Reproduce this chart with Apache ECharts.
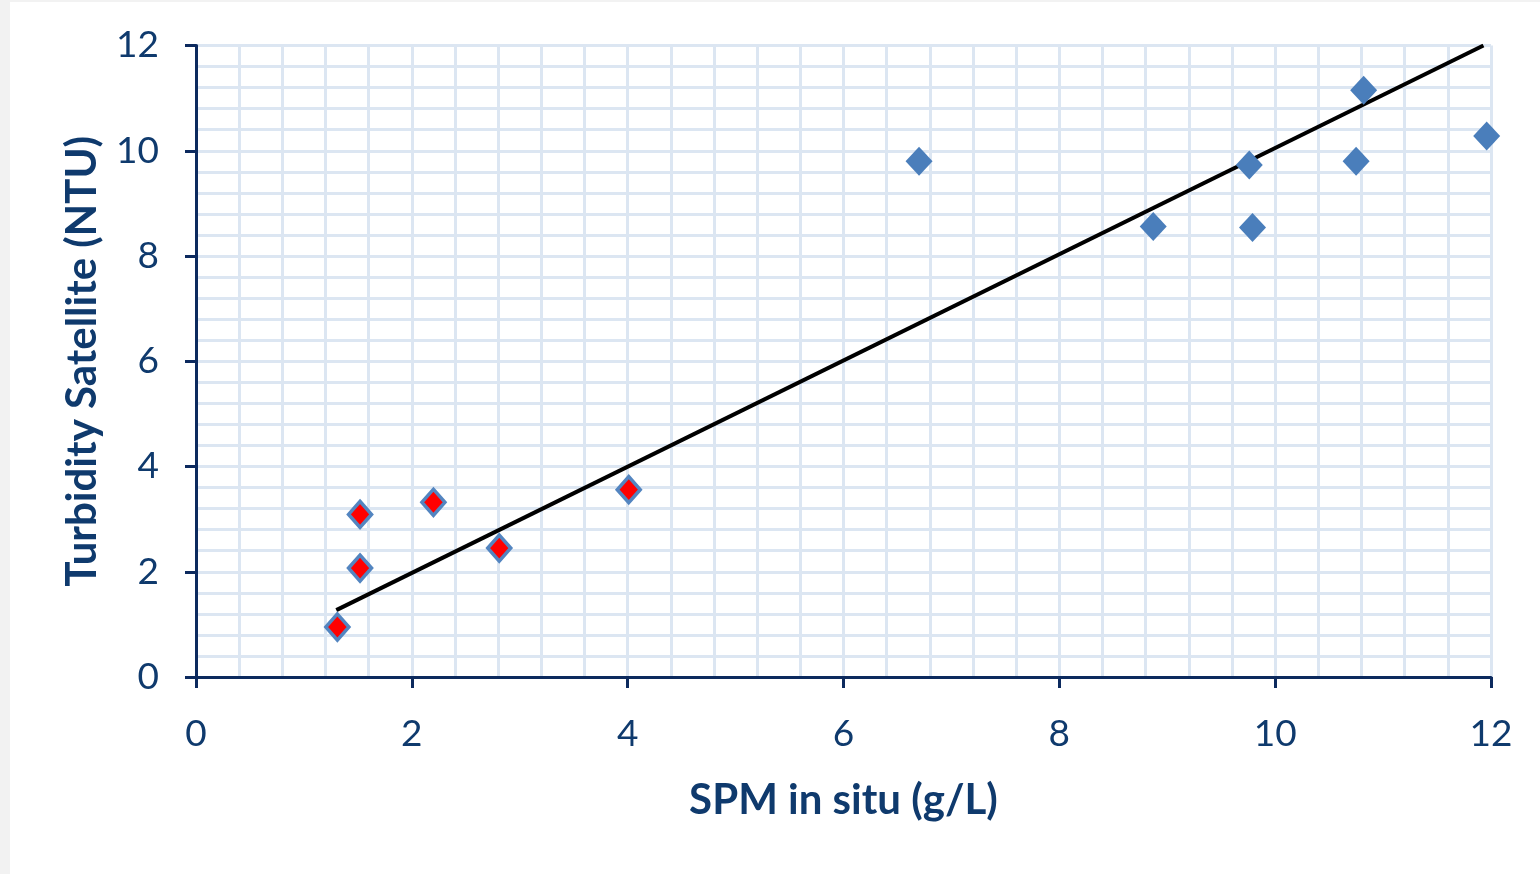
<!DOCTYPE html>
<html>
<head>
<meta charset="utf-8">
<script src="https://cdn.jsdelivr.net/npm/echarts@6/dist/echarts.min.js"></script>
<style>
  body { margin: 0; background: #f2f2f2; }
  #chart { position: absolute; left: 10px; top: 2px; width: 1530px; height: 872px; background: #fff; }
</style>
</head>
<body>
<div id="chart"></div>
<script>
// in situ SPM (g/L) vs satellite turbidity (NTU)
const redX = [1.31, 1.52, 1.52, 2.20, 2.81, 4.01]
const redY = [0.95, 2.07, 3.09, 3.32, 2.45, 3.56]
const blueX = [6.70, 8.87, 9.76, 9.79, 10.75, 10.82, 11.96]
const blueY = [9.80, 8.56, 9.73, 8.54, 9.80, 11.15, 10.28]
// trend line end points
const fitX = [1.30, 11.93]
const fitY = [1.27, 12.0]
const axisTicks = [0, 2, 4, 6, 8, 10, 12]

const navy = '#0c2a5e'
const textColor = '#0f3a6d'
const gridColor = '#dce6f2'
const fontFam = 'Lato, "Open Sans", sans-serif'

const zip = (xs, ys) => xs.map((x, i) => [x, ys[i]])

const makeAxis = (extra) => Object.assign({
  type: 'value',
  min: axisTicks[0],
  max: axisTicks[axisTicks.length - 1],
  interval: 2,
  axisLine: { show: true, lineStyle: { color: navy, width: 3 } },
  axisTick: { show: true, length: 11, lineStyle: { color: navy, width: 3 } },
  minorTick: { show: false, splitNumber: 5 },
  splitLine: { show: true, lineStyle: { color: gridColor, width: 3 } },
  minorSplitLine: { show: true, lineStyle: { color: gridColor, width: 3 } },
  nameLocation: 'middle',
  nameTextStyle: { color: textColor, fontFamily: fontFam, fontWeight: 'bold', fontSize: 42 }
}, extra)

const myChart = echarts.init(document.getElementById('chart'))
myChart.setOption({
  animation: false,
  grid: { left: 186, top: 43.5, right: 49, bottom: 197 },
  xAxis: makeAxis({
    name: 'SPM in situ (g/L)',
    nameGap: 102,
    axisLabel: { color: textColor, fontFamily: fontFam, fontSize: 37, margin: 39 }
  }),
  yAxis: makeAxis({
    name: 'Turbidity Satellite (NTU)',
    nameGap: 93,
    nameRotate: 90,
    axisLabel: { color: textColor, fontFamily: fontFam, fontSize: 37, margin: 37 }
  }),
  series: [
    {
      type: 'line',
      data: zip(fitX, fitY),
      symbol: 'none',
      lineStyle: { color: '#000', width: 4 },
      z: 3
    },
    {
      type: 'scatter',
      data: zip(blueX, blueY),
      symbol: 'diamond',
      symbolSize: [27, 29],
      itemStyle: { color: '#4a7ebb', opacity: 1 },
      z: 4
    },
    {
      type: 'scatter',
      data: zip(redX, redY),
      symbol: 'diamond',
      symbolSize: [23, 26],
      itemStyle: { color: '#ff0000', borderColor: '#5385c0', borderWidth: 3.5, opacity: 1 },
      z: 5
    }
  ]
})
</script>
</body>
</html>
